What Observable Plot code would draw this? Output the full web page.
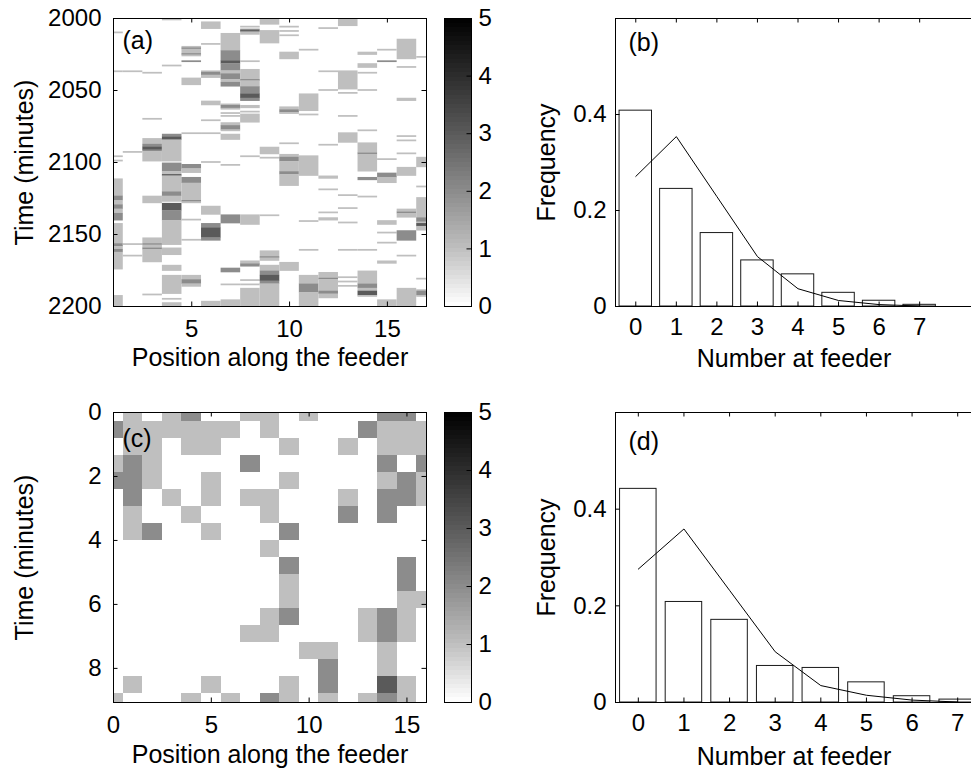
<!DOCTYPE html>
<html>
<head>
<meta charset="utf-8">
<script src="https://cdn.jsdelivr.net/npm/d3@7"></script>
<script src="https://cdn.jsdelivr.net/npm/@observablehq/plot@0.6"></script>
<style>
html, body { margin: 0; padding: 0; background: #fff; overflow: hidden; }
#wrap { position: relative; width: 971px; height: 771px; overflow: hidden; background: #fff; }
#wrap > svg { position: absolute; }
</style>
</head>
<body>
<div id="wrap"></div>
<script>
// ---------------- DATA ----------------
// Panel (a): runs of occupancy [position, firstMinute, lastMinute, count]; minutes after 2000
const runsA = [
  [1,10,10,1],[1,37,37,1],[1,96,96,1],[1,99,99,1],[1,112,123,1],[1,124,126,2],[1,127,129,1],[1,130,132,2],[1,133,135,1],[1,136,140,2],[1,143,156,1],[1,157,158,2],[1,159,160,1],[1,161,162,2],[1,163,174,1],[1,193,200,1],
  [2,37,37,1],[2,93,93,1],[2,157,157,1],[2,165,165,1],
  [3,38,38,1],[3,70,70,1],[3,84,87,1],[3,88,89,2],[3,90,91,3],[3,92,92,2],[3,93,99,1],[3,124,128,1],[3,153,156,1],[3,157,157,2],[3,158,159,1],[3,160,160,2],[3,161,169,1],[3,192,192,1],
  [4,1,1,1],[4,33,33,1],[4,81,82,2],[4,83,84,3],[4,85,99,1],[4,101,106,2],[4,107,108,1],[4,109,109,3],[4,110,120,1],[4,121,123,2],[4,124,127,1],[4,129,133,3],[4,134,140,2],[4,141,157,1],[4,160,164,1],[4,172,175,1],[4,179,191,1],[4,195,195,1],[4,198,200,1],
  [5,20,20,1],[5,21,21,2],[5,22,24,1],[5,25,25,2],[5,26,26,1],[5,30,30,2],[5,42,46,1],[5,80,80,1],[5,102,104,2],[5,105,107,1],[5,111,114,2],[5,115,126,1],[5,127,127,2],[5,128,128,1],[5,140,140,1],[5,154,154,1],[5,179,181,1],[5,182,184,2],[5,185,186,1],
  [6,3,7,1],[6,18,18,1],[6,37,37,1],[6,38,39,2],[6,40,41,1],[6,58,60,1],[6,71,71,1],[6,80,80,1],[6,100,100,1],[6,131,136,1],[6,143,145,2],[6,146,152,3],[6,153,154,2],[6,197,200,1],
  [7,11,22,1],[7,23,29,2],[7,30,31,3],[7,32,36,2],[7,37,38,1],[7,39,42,2],[7,43,44,1],[7,45,47,2],[7,60,60,1],[7,61,62,2],[7,63,63,1],[7,66,66,1],[7,68,68,1],[7,73,74,1],[7,75,77,2],[7,78,78,1],[7,81,84,1],[7,102,102,1],[7,137,142,2],[7,174,176,2],[7,185,185,1],[7,196,200,1],
  [8,6,6,1],[8,8,8,2],[8,9,9,3],[8,10,11,1],[8,30,30,1],[8,36,42,1],[8,43,43,2],[8,44,47,1],[8,48,52,2],[8,53,55,3],[8,56,57,2],[8,61,62,1],[8,65,65,1],[8,67,72,1],[8,96,96,1],[8,137,143,1],[8,169,170,1],[8,171,172,2],[8,182,182,1],[8,185,185,1],[8,188,200,1],
  [9,0,4,1],[9,9,17,1],[9,90,94,1],[9,97,97,1],[9,137,137,1],[9,162,165,1],[9,166,166,2],[9,167,168,1],[9,172,175,1],[9,176,178,2],[9,179,182,3],[9,183,184,2],[9,185,200,1],
  [10,6,6,1],[10,9,9,1],[10,12,12,1],[10,24,28,1],[10,62,63,1],[10,64,65,2],[10,66,66,1],[10,87,87,1],[10,95,96,1],[10,97,99,2],[10,100,106,1],[10,107,108,2],[10,109,116,1],[10,170,175,1],
  [11,22,22,1],[11,53,64,1],[11,67,67,1],[11,96,109,1],[11,141,141,1],[11,161,161,1],[11,179,184,1],[11,185,190,2],[11,191,200,1],
  [12,7,7,1],[12,37,37,1],[12,50,50,1],[12,88,88,1],[12,110,111,1],[12,119,119,1],[12,135,135,1],[12,139,140,1],[12,177,180,1],[12,181,181,2],[12,182,189,1],[12,190,191,2],[12,192,194,1],
  [13,1,5,1],[13,37,49,1],[13,52,52,1],[13,68,68,1],[13,80,86,1],[13,123,123,1],[13,132,132,1],[13,142,142,1],[13,161,161,1],[13,180,180,1],[13,183,183,1],[13,186,186,1],
  [14,24,25,1],[14,32,34,1],[14,38,38,1],[14,50,50,1],[14,78,78,1],[14,87,93,1],[14,94,94,2],[14,95,106,1],[14,111,112,2],[14,124,124,1],[14,161,161,1],[14,176,184,1],[14,185,187,2],[14,188,189,1],[14,190,192,3],[14,193,193,1],
  [15,22,22,1],[15,30,30,2],[15,98,98,1],[15,108,110,2],[15,111,114,1],[15,141,143,1],[15,149,149,1],[15,156,156,1],[15,169,170,1],[15,196,200,1],
  [16,15,28,1],[16,34,34,1],[16,56,57,1],[16,82,82,1],[16,85,85,1],[16,94,94,1],[16,104,109,1],[16,133,134,1],[16,135,135,2],[16,136,138,1],[16,148,154,2],[16,165,165,1],[16,188,200,1],
  [17,27,27,1],[17,97,103,1],[17,117,117,1],[17,125,138,1],[17,139,141,2],[17,142,142,1],[17,143,144,3],[17,145,147,1],[17,181,181,1],[17,189,189,1],[17,190,192,2],[17,193,193,1]
];
const startMinuteA = 2000;

// Panel (c): one string per 32-second sample (rows), one digit per position 0..16
const sampleSecondsC = 32;
const rowsC = [
  "01012001101000220",
  "21111110100002111",
  "01101100010010111",
  "12100002000000202",
  "22100100010000121",
  "02010101100010221",
  "01001000100020200",
  "01200100020000000",
  "00000000100000000",
  "00000000020000020",
  "00000000010000020",
  "00000000010000011",
  "00000000120001210",
  "00000001100001210",
  "00000000001100100",
  "00000000000200100",
  "01000100010200310",
  "10001010210101210"
];

// Histograms (b) and (d)
const numberAtFeeder = [0, 1, 2, 3, 4, 5, 6, 7];
const freqB  = [0.408, 0.245, 0.153, 0.096, 0.067, 0.0285, 0.012, 0.0035];
const modelB = [0.271, 0.354, 0.229, 0.104, 0.037, 0.0125, 0.004, 0.001];
const freqD  = [0.442, 0.208, 0.171, 0.0756, 0.0715, 0.0417, 0.013, 0.006];
const modelD = [0.276, 0.359, 0.232, 0.105, 0.035, 0.015, 0.005, 0.001];

// Tick values
const xTicksA = [5, 10, 15];
const yTicksA = [2000, 2050, 2100, 2150, 2200];
const xTicksC = [0, 5, 10, 15];
const yTicksC = [0, 2, 4, 6, 8];
const colorbarTicks = [0, 1, 2, 3, 4, 5];
const freqTicks = [0, 0.2, 0.4];

// ---------------- STYLE ----------------
const FONT = '"Liberation Sans", Arial, Helvetica, sans-serif';
const grayLevels = [0, 1, 2, 3, 4, 5];
const grayColors = ["#ffffff", "#bfbfbf", "#8c8c8c", "#5a5a5a", "#2d2d2d", "#000000"];
const colorOpts = {type: "linear", domain: grayLevels, range: grayColors, interpolate: "rgb"};
const TICK = 4.5;
const wrap = document.getElementById("wrap");

function place(svg, left, top) {
  svg.style.left = left + "px";
  svg.style.top = top + "px";
  wrap.appendChild(svg);
}

function boxMarks(xt, yt, fw, fh) {
  return [
    Plot.tickX(xt, {x: d => d, insetTop: fh - TICK, stroke: "black"}),
    Plot.tickX(xt, {x: d => d, insetBottom: fh - TICK, stroke: "black"}),
    Plot.tickY(yt, {y: d => d, insetRight: fw - TICK, stroke: "black"}),
    Plot.tickY(yt, {y: d => d, insetLeft: fw - TICK, stroke: "black"}),
    Plot.frame({stroke: "black", strokeWidth: 1})
  ];
}

function titleMarks({xTitle, yTitle, panel, xDy, yDx, pDx, pDy}) {
  return [
    Plot.text([xTitle], {text: d => d, frameAnchor: "bottom", dy: xDy, lineAnchor: "bottom", textAnchor: "middle", fontSize: 25}),
    Plot.text([yTitle], {text: d => d, frameAnchor: "left", dx: yDx, rotate: -90, lineAnchor: "middle", textAnchor: "middle", fontSize: 25}),
    Plot.text([panel], {text: d => d, frameAnchor: "top-left", dx: pDx, dy: pDy, lineAnchor: "bottom", textAnchor: "start", fontSize: 25})
  ];
}

// ---------- heatmap panels ----------
function heatmap({cells, xDomain, yDomain, xTicks, yTicks, width, height, mt, mb, ml, mr, xTitle, yTitle, panel, xDy, pDy, crisp}) {
  const fw = width - ml - mr, fh = height - mt - mb;
  const cellOpts = crisp
    ? {shapeRendering: "crispEdges"}
    : {insetTop: -0.15, insetBottom: -0.15};
  return Plot.plot({
    width, height, marginLeft: ml, marginRight: mr, marginTop: mt, marginBottom: mb,
    x: {domain: xDomain},
    y: {domain: yDomain, reverse: true},
    color: colorOpts,
    style: {fontFamily: FONT, fontSize: "24px", color: "black", background: "white"},
    marks: [
      Plot.rect(cells, {x1: "x1", x2: "x2", y1: "y1", y2: "y2", fill: "v", clip: true, ...cellOpts}),
      ...boxMarks(xTicks, yTicks, fw, fh),
      Plot.axisX({ticks: xTicks, anchor: "bottom", tickSize: 0, tickPadding: 13, tickFormat: d => String(d), label: null}),
      Plot.axisY({ticks: yTicks, anchor: "left", tickSize: 0, tickPadding: 12, tickFormat: d => String(d), label: null}),
      ...titleMarks({xTitle, yTitle, panel, xDy, yDx: -89, pDx: 9, pDy})
    ]
  });
}

function colorbar({height, mt, mb}) {
  const width = 80, ml = 14, mr = 39;
  const fw = width - ml - mr;
  const steps = d3.range(64);
  const stepV = 5 / 64;
  return Plot.plot({
    width, height, marginLeft: ml, marginRight: mr, marginTop: mt, marginBottom: mb,
    x: {domain: [0, 1], axis: null},
    y: {domain: [0, 5]},
    color: colorOpts,
    style: {fontFamily: FONT, fontSize: "24px", color: "black", background: "white"},
    marks: [
      Plot.rect(steps, {x1: 0, x2: 1, y1: i => i * stepV, y2: i => (i + 1) * stepV, fill: i => (i + 0.5) * stepV, shapeRendering: "crispEdges"}),
      Plot.tickY(colorbarTicks, {y: d => d, insetLeft: fw - TICK, stroke: "black"}),
      Plot.frame({stroke: "black"}),
      Plot.axisY({ticks: colorbarTicks, anchor: "right", tickSize: 0, tickPadding: 7, tickFormat: d => String(d), label: null})
    ]
  });
}

// ---------- histogram panels ----------
function histogram({freq, model, xDomain, width, height, mt, mb, panel, xDy, pDy}) {
  const ml = 95, mr = 10;
  const fw = width - ml - mr, fh = height - mt - mb;
  const table = numberAtFeeder.map((n, i) => ({n, f: freq[i], p: model[i]}));
  return Plot.plot({
    width, height, marginLeft: ml, marginRight: mr, marginTop: mt, marginBottom: mb,
    x: {domain: xDomain},
    y: {domain: [0, 0.6]},
    style: {fontFamily: FONT, fontSize: "24px", color: "black", background: "white"},
    marks: [
      Plot.rect(table, {x1: d => d.n - 0.4, x2: d => d.n + 0.4, y1: 0, y2: "f", fill: "white", stroke: "#1a1a1a", strokeWidth: 1}),
      Plot.line(table, {x: "n", y: "p", stroke: "black", strokeWidth: 1}),
      ...boxMarks(numberAtFeeder, freqTicks, fw, fh),
      Plot.axisX({ticks: numberAtFeeder, anchor: "bottom", tickSize: 0, tickPadding: 11, tickFormat: d => String(d), label: null}),
      Plot.axisY({ticks: freqTicks, anchor: "left", tickSize: 0, tickPadding: 9, tickFormat: d => String(d), label: null}),
      Plot.text(["Number at feeder"], {text: d => d, frameAnchor: "bottom", dx: -4, dy: xDy, lineAnchor: "bottom", textAnchor: "middle", fontSize: 25}),
      Plot.text(["Frequency"], {text: d => d, frameAnchor: "left", dx: -69, rotate: -90, lineAnchor: "middle", textAnchor: "middle", fontSize: 25}),
      Plot.text([panel], {text: d => d, frameAnchor: "top-left", dx: 13, dy: pDy, lineAnchor: "bottom", textAnchor: "start", fontSize: 25})
    ]
  });
}

// ---------- build cells ----------
const cellsA = runsA.map(([p, t0, t1, v]) => ({
  x1: p - 0.5, x2: p + 0.5,
  y1: startMinuteA + t0 - 0.5, y2: startMinuteA + t1 + 0.5, v
}));
const stepC = sampleSecondsC / 60;
const cellsC = [];
rowsC.forEach((row, k) => {
  row.split("").forEach((ch, p) => {
    const v = +ch;
    if (v > 0) cellsC.push({x1: p - 0.5, x2: p + 0.5, y1: k * stepC - stepC / 2, y2: k * stepC + stepC / 2, v});
  });
});

// ---------- render ----------
place(heatmap({
  cells: cellsA, xDomain: [1, 17], yDomain: [2000, 2200], xTicks: xTicksA, yTicks: yTicksA,
  width: 440, height: 380, ml: 113, mr: 14, mt: 18, mb: 74,
  xTitle: "Position along the feeder", yTitle: "Time (minutes)", panel: "(a)", xDy: 59, pDy: 30, crisp: false
}), 0, 0);
place(colorbar({height: 330, mt: 18, mb: 24}), 430, 0);
place(histogram({freq: freqB, model: modelB, xDomain: [-0.5, 8.5], width: 470, height: 380, mt: 18, mb: 74, panel: "(b)", xDy: 60, pDy: 32}), 520, 0);

place(heatmap({
  cells: cellsC, xDomain: [0, 16], yDomain: [0, (rowsC.length - 1) * stepC], xTicks: xTicksC, yTicks: yTicksC,
  width: 440, height: 391, ml: 113, mr: 14, mt: 32, mb: 69,
  xTitle: "Position along the feeder", yTitle: "Time (minutes)", panel: "(c)", xDy: 60, pDy: 34, crisp: true
}), 0, 380);
place(colorbar({height: 340, mt: 32, mb: 18}), 430, 380);
place(histogram({freq: freqD, model: modelD, xDomain: [-0.5, 7.5], width: 470, height: 391, mt: 32, mb: 69, panel: "(d)", xDy: 62, pDy: 37}), 520, 380);
</script>
</body>
</html>
